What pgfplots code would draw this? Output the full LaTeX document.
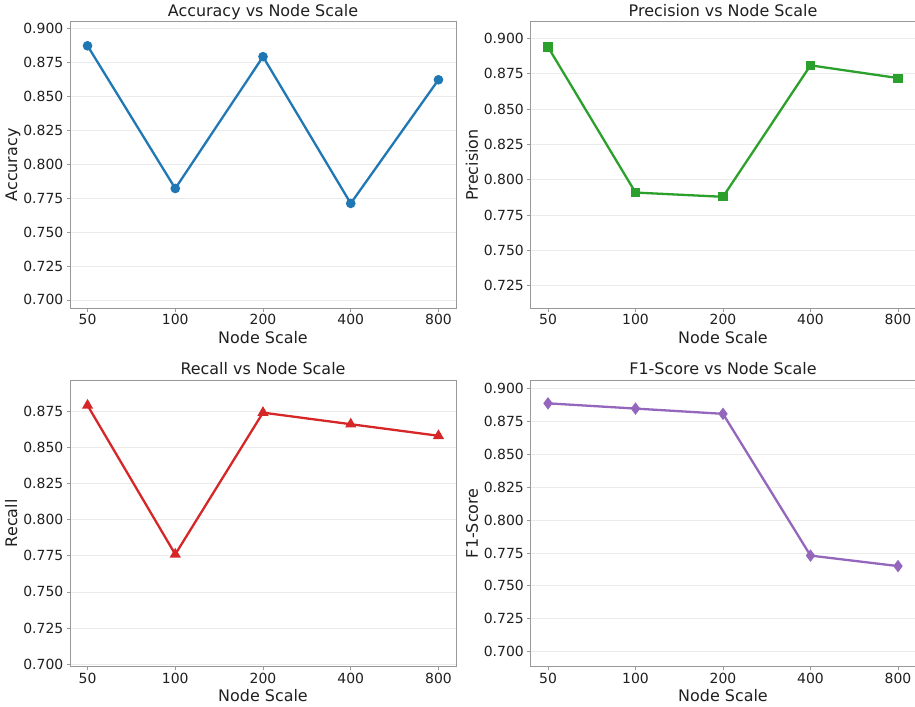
\documentclass[border=0pt]{standalone}
\usepackage{pgfplots}
\pgfplotsset{compat=1.18}
\usepackage{fontspec}
\setmainfont{DejaVu Sans}
\definecolor{tabblue}{HTML}{1F77B4}
\definecolor{tabgreen}{HTML}{2CA02C}
\definecolor{tabred}{HTML}{D62728}
\definecolor{tabpurple}{HTML}{9467BD}
\definecolor{spine}{gray}{0.6}
\definecolor{gridc}{gray}{0.92}
\definecolor{txt}{gray}{0.12}
\pgfplotsset{
  panel/.style={
    scale only axis,
    anchor=north west,
    width=386bp, height=286.5bp,
    xmin=-0.2, xmax=4.2,
    xtick={0,1,2,3,4},
    xticklabels={50,100,200,400,800},
    ymajorgrids, grid style={gridc, line width=0.8bp},
    axis line style={spine, line width=0.9bp},
    tick align=outside, xtick pos=bottom, ytick pos=left,
    major tick length=3.5bp,
    tick style={spine, line width=0.8bp},
    /pgf/number format/assume math mode=true,
    xticklabel style={font=\fontsize{14}{16}\selectfont, text=txt, anchor=north, inner sep=0pt, yshift=-2.5bp},
    yticklabel style={font=\fontsize{14}{16}\selectfont, text=txt, /pgf/number format/fixed, /pgf/number format/fixed zerofill, /pgf/number format/precision=3, anchor=east, inner sep=0pt, xshift=-3bp},
    label style={font=\fontsize{16}{19}\selectfont, text=txt},
    every axis title shift=0pt,
    title style={font=\fontsize{16}{19}\selectfont, text=txt, at={(axis description cs:0.5,1)}, anchor=base, inner sep=0pt, yshift=5bp},
    xlabel style={at={(axis description cs:0.5,0)}, anchor=base, inner sep=0pt, yshift=-35bp},
    ylabel style={at={(axis description cs:-0.137,0.5)}, anchor=base, inner sep=0pt},
    xlabel={Node Scale},
    every axis plot/.append style={line width=2.3bp},
  }
}
\begin{document}
\begin{tikzpicture}
\useasboundingbox (0,0) rectangle (915bp,707bp);
% Accuracy
\begin{axis}[panel, at={(70bp,685.3bp)},
  ymin=0.6939, ymax=0.90474,
  ytick={0.700,0.725,0.750,0.775,0.800,0.825,0.850,0.875,0.900},
  title={Accuracy vs Node Scale}, ylabel={Accuracy}]
\addplot[color=tabblue, mark=*, mark size=3.6bp] coordinates {(0,0.887) (1,0.782) (2,0.879) (3,0.771) (4,0.862)};
\end{axis}
% Precision
\begin{axis}[panel, at={(530.5bp,685.3bp)}, width=385bp,
  ymin=0.7092, ymax=0.91188,
  ytick={0.725,0.750,0.775,0.800,0.825,0.850,0.875,0.900},
  title={Precision vs Node Scale}, ylabel={Precision}]
\addplot[color=tabgreen, mark=square*, mark size=3.4bp] coordinates {(0,0.894) (1,0.791) (2,0.788) (3,0.881) (4,0.872)};
\end{axis}
% Recall
\begin{axis}[panel, at={(70bp,327bp)},
  ymin=0.6984, ymax=0.89658,
  ytick={0.700,0.725,0.750,0.775,0.800,0.825,0.850,0.875},
  title={Recall vs Node Scale}, ylabel={Recall}]
\addplot[color=tabred, mark=triangle*, mark size=4.2bp] coordinates {(0,0.879) (1,0.776) (2,0.874) (3,0.866) (4,0.858)};
\end{axis}
% F1
\begin{axis}[panel, at={(530.5bp,327bp)}, width=385bp,
  ymin=0.6885, ymax=0.90678,
  ytick={0.700,0.725,0.750,0.775,0.800,0.825,0.850,0.875,0.900},
  title={F1-Score vs Node Scale}, ylabel={F1-Score}]
\addplot[color=tabpurple, mark=diamond*, mark size=4.4bp] coordinates {(0,0.889) (1,0.885) (2,0.881) (3,0.773) (4,0.765)};
\end{axis}
\end{tikzpicture}
\end{document}
